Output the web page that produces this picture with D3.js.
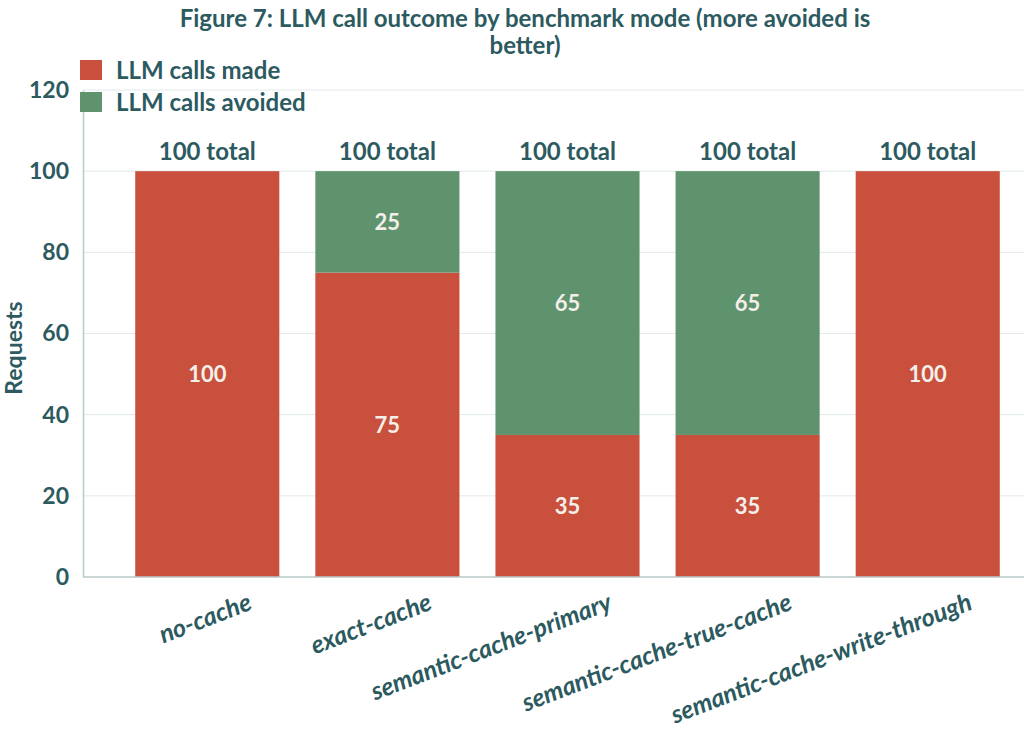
<!DOCTYPE html>
<html lang="en">
<head>
    <meta charset="UTF-8">
    <title>Figure 7</title>
    <script src="https://cdnjs.cloudflare.com/ajax/libs/d3/7.8.5/d3.min.js"></script>
    <style>
        body { margin: 0; background: #fff; }
        text { font-family: Lato, 'Noto Sans', sans-serif; font-weight: 700; }
    </style>
</head>
<body>
    <div id="wrapper"></div>
    <script>
        // data
        const modes = ['no-cache', 'exact-cache', 'semantic-cache-primary', 'semantic-cache-true-cache', 'semantic-cache-write-through']
        const callsMade = [100, 75, 35, 35, 100]
        const callsAvoided = [0, 25, 65, 65, 0]
        const seriesNames = ['LLM calls made', 'LLM calls avoided']
        const yTicks = [0, 20, 40, 60, 80, 100, 120]

        const colors = ['#c8503d', '#5e936d']
        const textColor = '#2c5a5f'

        function drawChart() {
            const dimensions = {
                width: 1024,
                height: 737,
                margin: { top: 90, right: -28, bottom: 160, left: 83 }
            }
            dimensions.boundedWidth = dimensions.width - dimensions.margin.left - dimensions.margin.right
            dimensions.boundedHeight = dimensions.height - dimensions.margin.top - dimensions.margin.bottom

            const table = modes.map((m, i) => ({ mode: m, made: callsMade[i], avoided: callsAvoided[i] }))
            const stacked = d3.stack().keys(['made', 'avoided'])(table)

            const svg = d3.select('#wrapper')
                .append('svg')
                    .attr('width', dimensions.width)
                    .attr('height', dimensions.height)
                    .style('display', 'block')

            const bounds = svg.append('g')
                .attr('transform', `translate(${dimensions.margin.left},${dimensions.margin.top})`)

            const xScale = d3.scaleBand()
                .domain(modes)
                .range([0, dimensions.boundedWidth])
                .paddingInner(0.2)
                .paddingOuter(0.29)

            const yScale = d3.scaleLinear()
                .domain([0, 120])
                .range([dimensions.boundedHeight, 0])

            // grid
            bounds.append('g')
                .selectAll('line')
                .data(yTicks.filter(d => d > 0))
                .join('line')
                    .attr('x1', 0)
                    .attr('x2', dimensions.width - dimensions.margin.left)
                    .attr('y1', d => yScale(d))
                    .attr('y2', d => yScale(d))
                    .attr('stroke', '#e1e9e9')
                    .attr('stroke-width', 1)

            // bars
            bounds.append('g')
                .selectAll('g')
                .data(stacked)
                .join('g')
                    .attr('fill', (d, i) => colors[i])
                .selectAll('rect')
                .data(d => d.filter(p => p[1] > p[0]))
                .join('rect')
                    .attr('x', d => xScale(d.data.mode))
                    .attr('y', d => yScale(d[1]))
                    .attr('width', xScale.bandwidth())
                    .attr('height', d => yScale(d[0]) - yScale(d[1]))

            // segment labels
            bounds.append('g')
                .selectAll('g')
                .data(stacked)
                .join('g')
                .selectAll('text')
                .data(d => d.filter(p => p[1] > p[0]))
                .join('text')
                    .attr('x', d => xScale(d.data.mode) + xScale.bandwidth() / 2)
                    .attr('y', d => yScale((d[0] + d[1]) / 2))
                    .attr('dy', '0.35em')
                    .attr('text-anchor', 'middle')
                    .attr('fill', '#f3efe9')
                    .style('font-size', '22px')
                    .text(d => d[1] - d[0])

            // totals
            bounds.append('g')
                .selectAll('text')
                .data(table)
                .join('text')
                    .attr('x', d => xScale(d.mode) + xScale.bandwidth() / 2)
                    .attr('y', d => yScale(d.made + d.avoided) - 11)
                    .attr('text-anchor', 'middle')
                    .attr('fill', textColor)
                    .style('font-size', '24px')
                    .text(d => `${d.made + d.avoided} total`)

            // axes
            const yAxis = bounds.append('g')
                .call(d3.axisLeft(yScale).tickValues(yTicks).tickSize(0).tickPadding(14))
            yAxis.select('.domain').attr('stroke', '#b9c9c9').attr('stroke-width', 1.5)
            yAxis.selectAll('.tick text')
                .attr('fill', textColor)
                .style('font-size', '23px')
                .style('font-family', 'Lato, sans-serif')
                .style('font-weight', 700)

            bounds.append('line')
                .attr('x1', 0)
                .attr('x2', dimensions.width - dimensions.margin.left)
                .attr('y1', dimensions.boundedHeight)
                .attr('y2', dimensions.boundedHeight)
                .attr('stroke', '#b9c9c9')
                .attr('stroke-width', 1.5)

            // x labels
            bounds.append('g')
                .selectAll('text')
                .data(modes)
                .join('text')
                    .attr('transform', d => `translate(${xScale(d) + xScale.bandwidth() / 2 + 46},${dimensions.boundedHeight + 32}) rotate(-21)`)
                    .attr('text-anchor', 'end')
                    .attr('fill', textColor)
                    .style('font-size', '25px')
                    .style('font-style', 'italic')
                    .text(d => d)

            // y title
            svg.append('text')
                .attr('transform', `translate(22,348) rotate(-90)`)
                .attr('text-anchor', 'middle')
                .attr('fill', textColor)
                .style('font-size', '23px')
                .text('Requests')

            // title
            const title = svg.append('text')
                .attr('text-anchor', 'middle')
                .attr('fill', textColor)
                .style('font-size', '24px')
            title.append('tspan').attr('x', 525).attr('y', 27)
                .text('Figure 7: LLM call outcome by benchmark mode (more avoided is')
            title.append('tspan').attr('x', 525).attr('y', 54)
                .text('better)')

            // legend
            const legend = svg.append('g')
                .selectAll('g')
                .data(seriesNames)
                .join('g')
                    .attr('transform', (d, i) => `translate(80,${60 + i * 32})`)
            legend.append('rect')
                .attr('width', 22)
                .attr('height', 20)
                .attr('fill', (d, i) => colors[i])
            legend.append('text')
                .attr('x', 36)
                .attr('y', 19)
                .attr('fill', textColor)
                .style('font-size', '24px')
                .text(d => d)
        }

        drawChart()
    </script>
</body>
</html>
